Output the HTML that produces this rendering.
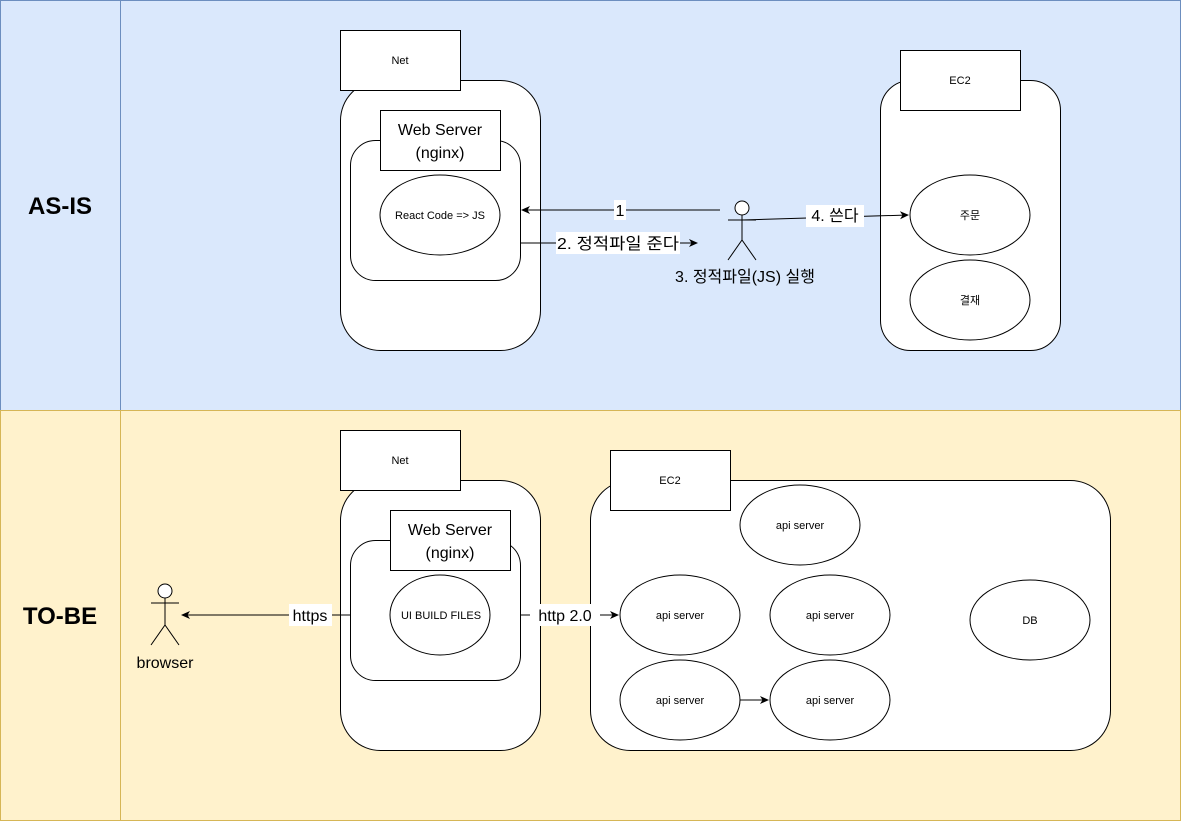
<!DOCTYPE html>
<html><head><meta charset="utf-8"><style>body{margin:0}svg{display:block}text{font-family:"Liberation Sans","Noto Sans CJK KR",sans-serif}</style></head><body>
<svg width="1181" height="822" viewBox="0 0 1181 822" xmlns="http://www.w3.org/2000/svg">
<defs><marker id="a" markerWidth="9" markerHeight="9" refX="8" refY="4.5" orient="auto" markerUnits="userSpaceOnUse"><path d="M0,0.5 L9,4.5 L0,8.5 L2.5,4.5z" fill="#000"/></marker></defs>
<rect x="0.5" y="0.5" width="1180" height="410" fill="#dae8fc" stroke="#6c8ebf"/>
<line x1="120.5" y1="0" x2="120.5" y2="410" stroke="#6c8ebf"/>
<rect x="0.5" y="410.5" width="1180" height="410" fill="#fff2cc" stroke="#d6b656"/>
<line x1="120.5" y1="410" x2="120.5" y2="821" stroke="#d6b656"/>
<text x="60" y="214" font-size="24" font-weight="bold" text-anchor="middle">AS-IS</text>
<text x="60" y="624" font-size="24" font-weight="bold" text-anchor="middle">TO-BE</text>
<g stroke="#000" fill="#fff">
<rect x="340.5" y="80.5" width="200" height="270" rx="40"/>
<rect x="350.5" y="140.5" width="170" height="140" rx="25"/>
<rect x="340.5" y="30.5" width="120" height="60"/>
<rect x="380.5" y="110.5" width="120" height="60"/>
<ellipse cx="440" cy="215" rx="60" ry="40"/>
<rect x="880.5" y="80.5" width="180" height="270" rx="30"/>
<rect x="900.5" y="50.5" width="120" height="60"/>
<ellipse cx="970" cy="215" rx="60" ry="40"/>
<ellipse cx="970" cy="300" rx="60" ry="40"/>
<rect x="340.5" y="480.5" width="200" height="270" rx="40"/>
<rect x="350.5" y="540.5" width="170" height="140" rx="25"/>
<rect x="340.5" y="430.5" width="120" height="60"/>
<rect x="390.5" y="510.5" width="120" height="60"/>
<ellipse cx="440" cy="615" rx="50" ry="40"/>
<rect x="590.5" y="480.5" width="520" height="270" rx="40"/>
<rect x="610.5" y="450.5" width="120" height="60"/>
<ellipse cx="800" cy="525" rx="60" ry="40"/>
<ellipse cx="680" cy="615" rx="60" ry="40"/>
<ellipse cx="830" cy="615" rx="60" ry="40"/>
<ellipse cx="680" cy="700" rx="60" ry="40"/>
<ellipse cx="830" cy="700" rx="60" ry="40"/>
<ellipse cx="1030" cy="620" rx="60" ry="40"/>
<circle cx="742" cy="208" r="7"/>
<circle cx="165" cy="591" r="7"/>
</g>
<g stroke="#000" fill="none">
<path d="M742 215V240M728 220H756M728 260L742 240L756 260"/>
<path d="M165 598V625M151 603H179M151 645L165 625L179 645"/>
<line x1="720" y1="210" x2="522" y2="210" marker-end="url(#a)"/>
<line x1="520" y1="243" x2="697" y2="243" marker-end="url(#a)"/>
<line x1="742" y1="220" x2="908" y2="215" marker-end="url(#a)"/>
<line x1="350" y1="615" x2="182" y2="615" marker-end="url(#a)"/>
<line x1="520" y1="615" x2="618" y2="615" marker-end="url(#a)"/>
<line x1="740" y1="700" x2="768" y2="700" marker-end="url(#a)"/>
</g>
<g fill="#fff">
<rect x="614" y="200" width="12" height="20"/>
<rect x="556" y="232" width="124" height="22"/>
<rect x="806" y="205" width="58" height="22"/>
<rect x="289" y="604" width="43" height="22"/>
<rect x="530" y="604" width="70" height="22"/>
</g>
<g font-size="11" text-anchor="middle">
<text x="400" y="64">Net</text><text x="960" y="84">EC2</text>
<text x="440" y="219">React Code =&gt; JS</text>
<text x="970" y="219">주문</text><text x="970" y="304">결재</text>
<text x="400" y="464">Net</text><text x="670" y="484">EC2</text>
<text x="441" y="619">UI BUILD FILES</text>
<text x="800" y="529">api server</text><text x="680" y="619">api server</text>
<text x="830" y="619">api server</text><text x="680" y="704">api server</text>
<text x="830" y="704">api server</text><text x="1030" y="624">DB</text>
</g>
<g font-size="16" text-anchor="middle">
<text x="440" y="135">Web Server</text><text x="440" y="158">(nginx)</text>
<text x="450" y="535">Web Server</text><text x="450" y="558">(nginx)</text>
<text x="620" y="216">1</text>
<text x="618" y="249" textLength="122" lengthAdjust="spacingAndGlyphs">2. 정적파일 준다</text>
<text x="835" y="221">4. 쓴다</text>
<text x="745" y="282">3. 정적파일(JS) 실행</text>
<text x="310" y="621">https</text>
<text x="565" y="621">http 2.0</text>
<text x="165" y="668">browser</text>
</g>
</svg>
</body></html>
